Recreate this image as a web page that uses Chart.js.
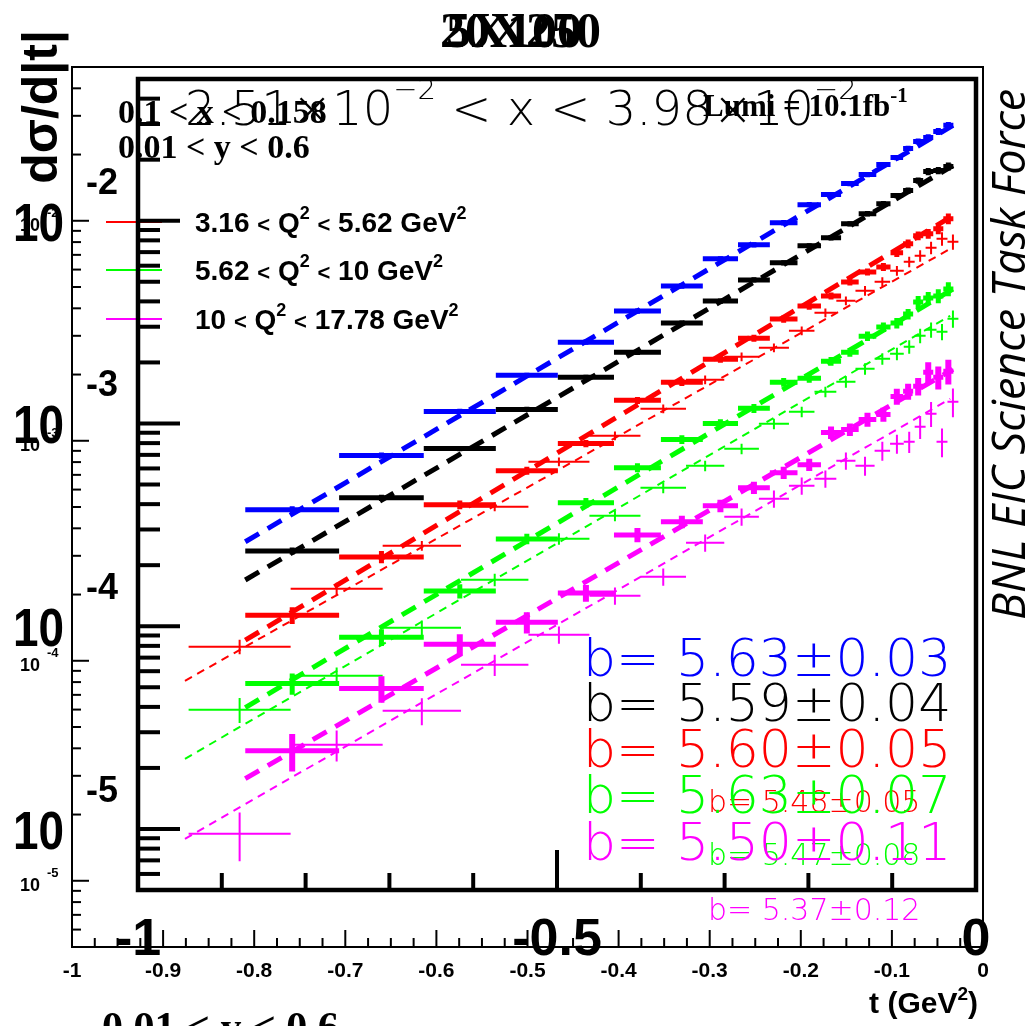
<!DOCTYPE html>
<html>
<head>
<meta charset="utf-8">
<script src="https://cdn.jsdelivr.net/npm/chart.js@4"></script>
<style>
html,body{margin:0;padding:0;background:#fff;overflow:hidden}
#wrap{position:relative;width:1033px;height:1026px}
#wrap canvas{position:absolute;left:0;top:0}
</style>
</head>
<body>
<div id="wrap">
<canvas id="outer" width="1033" height="1026"></canvas>
<canvas id="inner" width="1033" height="1026"></canvas>
</div>
<script>
// ---------------- DATA ----------------
// |t| bin edges (t in GeV^2, negative)
const tBinEdges = [-0.872, -0.760, -0.659, -0.573, -0.499, -0.432, -0.376, -0.326, -0.284, -0.246, -0.213,
  -0.185, -0.161, -0.140, -0.119, -0.102, -0.087, -0.075, -0.063, -0.051, -0.039, -0.027];

// 20X250 panel (thick markers): dsigma/d|t|
const e20Blue = [3.752e-4, 6.944e-4, 1.147e-3, 1.729e-3, 2.518e-3, 3.585e-3, 4.767e-3, 6.484e-3, 7.606e-3, 9.775e-3,
  1.200e-2, 1.345e-2, 1.525e-2, 1.689e-2, 1.893e-2, 2.050e-2, 2.272e-2, 2.461e-2, 2.576e-2, 2.758e-2, 2.953e-2];
const e20Black = [2.351e-4, 4.301e-4, 7.519e-4, 1.173e-3, 1.690e-3, 2.246e-3, 3.126e-3, 4.018e-3, 5.104e-3, 6.196e-3,
  7.519e-3, 8.236e-3, 9.663e-3, 1.083e-2, 1.214e-2, 1.330e-2, 1.408e-2, 1.578e-2, 1.748e-2, 1.768e-2, 1.851e-2];
const e20Red = [1.134e-4, 2.196e-4, 3.972e-4, 5.852e-4, 7.962e-4, 1.300e-3, 1.596e-3, 2.074e-3, 2.635e-3, 3.273e-3,
  3.795e-3, 4.253e-3, 4.989e-3, 5.591e-3, 5.920e-3, 6.944e-3, 7.693e-3, 8.426e-3, 8.620e-3, 9.130e-3, 1.023e-2];
const e20Green = [5.221e-5, 8.820e-5, 1.490e-4, 2.696e-4, 4.064e-4, 6.056e-4, 8.332e-4, 1.000e-3, 1.187e-3, 1.596e-3,
  1.671e-3, 2.027e-3, 2.246e-3, 2.696e-3, 2.987e-3, 3.126e-3, 3.464e-3, 3.972e-3, 4.157e-3, 4.253e-3, 4.607e-3];
const e20Magenta = [2.433e-5, 4.932e-5, 8.145e-5, 1.047e-4, 1.457e-4, 2.821e-4, 3.273e-4, 3.926e-4, 4.823e-4, 5.720e-4,
  6.266e-4, 9.023e-4, 9.339e-4, 1.047e-3, 1.108e-3, 1.360e-3, 1.440e-3, 1.525e-3, 1.788e-3, 1.690e-3, 1.809e-3];
// relative errors
const e20BlueErr = [0.04,0.035,0.03,0.03,0.03,0.03,0.03,0.03,0.03,0.03,0.03,0.03,0.03,0.03,0.03,0.03,0.03,0.035,0.035,0.04,0.04];
const e20BlackErr = [0.04,0.035,0.03,0.03,0.03,0.03,0.03,0.03,0.03,0.03,0.03,0.03,0.03,0.03,0.03,0.03,0.035,0.035,0.04,0.04,0.045];
const e20RedErr = [0.095,0.07,0.05,0.045,0.04,0.04,0.04,0.04,0.04,0.04,0.04,0.04,0.04,0.04,0.045,0.045,0.05,0.05,0.055,0.06,0.06];
const e20GreenErr = [0.12,0.095,0.08,0.06,0.055,0.05,0.05,0.05,0.05,0.05,0.05,0.05,0.05,0.055,0.055,0.06,0.06,0.07,0.07,0.08,0.08];
const e20MagentaErr = [0.21,0.15,0.12,0.12,0.095,0.08,0.07,0.07,0.07,0.07,0.07,0.07,0.07,0.08,0.08,0.09,0.09,0.1,0.12,0.13,0.14];
// fits (20X250)
const e20FitT = [-0.872, -0.0275];
const e20FitBlue = [2.61e-4, 2.95e-2];
const e20FitBlack = [1.69e-4, 1.87e-2];
const e20FitRed = [8.53e-5, 1.06e-2];
const e20FitGreen = [3.97e-5, 4.60e-3];
const e20FitMagenta = [1.77e-5, 1.85e-3];
const e20Slopes = ['b= 5.63\u00B10.03', 'b= 5.59\u00B10.04', 'b= 5.60\u00B10.05', 'b= 5.63\u00B10.07', 'b= 5.50\u00B10.11'];

// 5X100 panel (thin markers)
const e5Red = [1.158e-4, 2.125e-4, 3.332e-4, 5.012e-4, 8.026e-4, 1.054e-3, 1.398e-3, 1.894e-3, 2.409e-3, 2.647e-3,
  3.162e-3, 3.818e-3, 4.329e-3, 4.806e-3, 5.280e-3, 5.925e-3, 6.510e-3, 6.932e-3, 7.538e-3, 8.283e-3, 8.026e-3];
const e5Green = [5.988e-5, 8.547e-5, 1.413e-4, 2.334e-4, 3.585e-4, 4.562e-4, 6.115e-4, 7.698e-4, 9.196e-4, 1.195e-3,
  1.354e-3, 1.670e-3, 1.854e-3, 2.125e-3, 2.359e-3, 2.486e-3, 2.676e-3, 3.001e-3, 3.195e-3, 3.129e-3, 3.585e-3];
const e5Magenta = [1.635e-5, 4.152e-5, 5.925e-5, 9.590e-5, 1.313e-4, 1.975e-4, 2.409e-4, 3.439e-4, 4.514e-4, 5.450e-4,
  6.245e-4, 6.720e-4, 8.111e-4, 7.698e-4, 9.004e-4, 9.692e-4, 9.897e-4, 1.158e-3, 1.327e-3, 9.897e-4, 1.504e-3];
const e5RedErr = [0.076,0.065,0.05,0.045,0.045,0.045,0.045,0.045,0.045,0.045,0.045,0.045,0.045,0.05,0.05,0.05,0.055,0.06,0.065,0.07,0.08];
const e5GreenErr = [0.13,0.09,0.08,0.065,0.06,0.055,0.055,0.055,0.055,0.055,0.055,0.055,0.06,0.06,0.06,0.065,0.07,0.075,0.08,0.085,0.09];
const e5MagentaErr = [0.25,0.16,0.14,0.11,0.09,0.09,0.09,0.09,0.09,0.09,0.09,0.09,0.09,0.1,0.1,0.1,0.11,0.12,0.13,0.15,0.15];
const e5FitT = [-0.876, -0.036];
const e5FitRed = [8.11e-5, 7.46e-3];
const e5FitGreen = [3.585e-5, 3.70e-3];
const e5FitMagenta = [1.552e-5, 1.552e-3];
const e5Slopes = ['b= 5.48\u00B10.05', 'b= 5.47\u00B10.08', 'b= 5.37\u00B10.12'];

const legendLabels = [['3.16', '5.62'], ['5.62', '10'], ['10', '17.78']];

// tick labels
const outerXTickValues = [-1, -0.9, -0.8, -0.7, -0.6, -0.5, -0.4, -0.3, -0.2, -0.1, 0];
const outerXTickLabels = ['-1', '-0.9', '-0.8', '-0.7', '-0.6', '-0.5', '-0.4', '-0.3', '-0.2', '-0.1', '0'];
const innerXTickValues = [-1, -0.5, 0];
const innerXTickLabels = ['-1', '-0.5', '0'];
const yDecadeValues = [1e-2, 1e-3, 1e-4, 1e-5];
const yDecadeExponents = ['-2', '-3', '-4', '-5'];

// ---------------- HELPERS ----------------
const SANS = '"Liberation Sans", Arial, Helvetica, sans-serif';
const SERIF = '"Liberation Serif", "Times New Roman", serif';
const THIN = '"DejaVu Sans", sans-serif';
const COL = {blue:'#0000ff', black:'#000000', red:'#ff0000', green:'#00ff00', magenta:'#ff00ff'};

function errorSets(values, rel, color, hw, vw) {
  const h = [], v = [];
  values.forEach((val, i) => {
    const lo = tBinEdges[i], hi = tBinEdges[i + 1], mid = (lo + hi) / 2;
    h.push({x: lo, y: val}, {x: hi, y: val}, {x: mid, y: null});
    v.push({x: mid, y: val * (1 - rel[i])}, {x: mid, y: val * (1 + rel[i])}, {x: mid, y: null});
  });
  const base = {pointRadius: 0, fill: false, tension: 0, spanGaps: false, borderCapStyle: 'butt'};
  return [
    Object.assign({data: h, borderColor: color, borderWidth: hw}, base),
    Object.assign({data: v, borderColor: color, borderWidth: vw}, base)
  ];
}
function fitSet(ts, vals, color, w, dash) {
  return {data: ts.map((t, i) => ({x: t, y: vals[i]})), borderColor: color, borderWidth: w,
    borderDash: dash, pointRadius: 0, fill: false, tension: 0, borderCapStyle: 'butt'};
}
function parts(ctx, x, y, list, align) {
  let w = 0;
  list.forEach(p => { ctx.font = p.f; w += ctx.measureText(p.s).width; });
  let cx = align === 'right' ? x - w : (align === 'center' ? x - w / 2 : x);
  ctx.textAlign = 'left';
  ctx.textBaseline = 'alphabetic';
  list.forEach(p => {
    ctx.font = p.f;
    if (p.c) ctx.fillStyle = p.c;
    ctx.fillText(p.s, cx, y + (p.dy || 0));
    cx += ctx.measureText(p.s).width;
  });
}
function seg(ctx, x1, y1, x2, y2) { ctx.beginPath(); ctx.moveTo(x1, y1); ctx.lineTo(x2, y2); ctx.stroke(); }

function yTickValues(min, max) {
  const out = [];
  for (let e = -7; e <= 0; e++) for (let k = 1; k <= 9; k++) {
    const v = k * Math.pow(10, e);
    if (v >= min * 0.999 && v <= max * 1.001) out.push({v: v, major: k === 1});
  }
  return out;
}

// ---------------- OUTER (5X100) ----------------
const outerDeco = {
  id: 'outerDeco',
  afterDraw(chart) {
    const ctx = chart.ctx, a = chart.chartArea, xs = chart.scales.x, ys = chart.scales.y;
    ctx.save();
    ctx.strokeStyle = '#000'; ctx.fillStyle = '#000'; ctx.lineWidth = 2;
    ctx.strokeRect(a.left, a.top, a.right - a.left, a.bottom - a.top);
    // y ticks
    yTickValues(ys.min, ys.max).forEach(t => {
      const py = ys.getPixelForValue(t.v);
      seg(ctx, a.left, py, a.left + (t.major ? 17 : 9), py);
    });
    // x ticks
    for (let i = 1; i < 40; i++) {
      const px = xs.getPixelForValue(-1 + i * 0.025);
      seg(ctx, px, a.bottom, px, a.bottom - (i % 4 === 0 ? 17 : 9));
    }
    // x labels
    outerXTickValues.forEach((v, i) => {
      ctx.font = 'bold 21px ' + SANS; ctx.textAlign = 'center'; ctx.textBaseline = 'alphabetic';
      ctx.fillText(outerXTickLabels[i], xs.getPixelForValue(v), a.bottom + 30);
    });
    // y labels
    yDecadeValues.forEach((v, i) => {
      const py = ys.getPixelForValue(v);
      ctx.font = 'bold 18px ' + SANS; ctx.textAlign = 'right'; ctx.textBaseline = 'alphabetic';
      ctx.fillText('10', 40, py + 10);
      ctx.font = 'bold 13px ' + SANS; ctx.textAlign = 'left';
      ctx.fillText(yDecadeExponents[i], 47, py - 4);
    });
    // titles
    ctx.textAlign = 'left';
    ctx.font = 'bold 50px ' + SERIF; ctx.fillText('5X100', 446, 47);
    ctx.font = 'bold 34px ' + SERIF;
    ctx.fillText('0.1 < x < 0.158', 118, 123);
    ctx.fillText('0.01 < y < 0.6', 118, 158);
    parts(ctx, 703, 116, [{s: 'Lumi = 10.1fb', f: 'bold 31px ' + SERIF}, {s: '-1', f: 'bold 21px ' + SERIF, dy: -14}]);
    ctx.font = 'bold 42px ' + SERIF; ctx.fillText('0.01 < y < 0.6', 102, 1041);
    // legend
    const legCols = [COL.red, COL.green, COL.magenta], legY = [222, 270, 319];
    legendLabels.forEach((lab, i) => {
      ctx.strokeStyle = legCols[i]; ctx.lineWidth = 2;
      seg(ctx, 106, legY[i], 162, legY[i]);
      ctx.fillStyle = '#000';
      const B = 'bold 28px ' + SANS, S = 'bold 18px ' + SANS, L = 'bold 22px ' + SANS;
      parts(ctx, 195, legY[i] + 10, [{s: lab[0] + ' ', f: B}, {s: '<', f: L}, {s: ' Q', f: B}, {s: '2', f: S, dy: -13},
        {s: ' ', f: B}, {s: '<', f: L}, {s: ' ' + lab[1] + ' GeV', f: B}, {s: '2', f: S, dy: -13}]);
    });
    // axis titles
    ctx.fillStyle = '#000';
    parts(ctx, 978, 1013, [{s: 't (GeV', f: 'bold 30px ' + SANS}, {s: '2', f: 'bold 19px ' + SANS, dy: -13}, {s: ')', f: 'bold 30px ' + SANS}], 'right');
    ctx.save();
    ctx.translate(43, 30); ctx.rotate(-Math.PI / 2);
    ctx.font = 'bold 50px ' + SANS; ctx.textAlign = 'right'; ctx.textBaseline = 'middle';
    ctx.fillText('d\u03C3/d|t|', 0, 0);
    ctx.restore();
    // slopes
    const sc = [COL.red, COL.green, COL.magenta], sy = [812, 865, 920];
    e5Slopes.forEach((s, i) => {
      ctx.fillStyle = sc[i]; ctx.font = '200 30px ' + THIN; ctx.textAlign = 'left';
      ctx.fillText(s, 708, sy[i]);
    });
    ctx.restore();
  }
};

const outerSets = [].concat(
  errorSets(e5Red, e5RedErr, COL.red, 2, 2),
  errorSets(e5Green, e5GreenErr, COL.green, 2, 2),
  errorSets(e5Magenta, e5MagentaErr, COL.magenta, 2, 2),
  [fitSet(e5FitT, e5FitRed, COL.red, 2, [8, 6]),
   fitSet(e5FitT, e5FitGreen, COL.green, 2, [8, 6]),
   fitSet(e5FitT, e5FitMagenta, COL.magenta, 2, [8, 6])]
);

new Chart(document.getElementById('outer'), {
  type: 'line',
  data: {datasets: outerSets},
  options: {
    responsive: false, animation: false, events: [],
    layout: {padding: {left: 72, right: 50, top: 67, bottom: 79}},
    plugins: {legend: {display: false}, tooltip: {enabled: false}, title: {display: false}},
    scales: {
      x: {type: 'linear', min: -1, max: 0, display: false},
      y: {type: 'logarithmic', min: 5e-6, max: 5e-2, display: false}
    }
  },
  plugins: [outerDeco]
});

// ---------------- INNER (20X250) ----------------
const innerDeco = {
  id: 'innerDeco',
  afterDraw(chart) {
    const ctx = chart.ctx, a = chart.chartArea, xs = chart.scales.x, ys = chart.scales.y;
    ctx.save();
    ctx.strokeStyle = '#000'; ctx.fillStyle = '#000'; ctx.lineWidth = 4.5;
    ctx.strokeRect(a.left, a.top, a.right - a.left, a.bottom - a.top);
    ctx.lineWidth = 4;
    yTickValues(ys.min, ys.max).forEach(t => {
      const py = ys.getPixelForValue(t.v);
      seg(ctx, a.left, py, a.left + (t.major ? 42 : 22), py);
    });
    for (let i = 1; i < 10; i++) {
      const px = xs.getPixelForValue(-1 + i * 0.1);
      seg(ctx, px, a.bottom, px, a.bottom - (i === 5 ? 40 : 17));
    }
    innerXTickValues.forEach((v, i) => {
      ctx.font = 'bold 52px ' + SANS; ctx.textAlign = 'center'; ctx.textBaseline = 'alphabetic';
      ctx.fillText(innerXTickLabels[i], xs.getPixelForValue(v), a.bottom + 65);
    });
    yDecadeValues.forEach((v, i) => {
      const py = ys.getPixelForValue(v);
      ctx.save();
      ctx.translate(64, py + 20); ctx.scale(0.85, 1);
      ctx.font = 'bold 54px ' + SANS; ctx.textAlign = 'right'; ctx.textBaseline = 'alphabetic';
      ctx.fillText('10', 0, 0);
      ctx.restore();
      ctx.font = 'bold 36px ' + SANS; ctx.textAlign = 'left';
      ctx.fillText(yDecadeExponents[i], 86, py - 27);
    });
    ctx.textAlign = 'left';
    ctx.font = 'bold 50px ' + SERIF; ctx.fillText('20X250', 440, 47);
    const T = '200 48px ' + THIN, E = '200 29px ' + THIN;
    parts(ctx, 185, 125, [{s: '2.51\u00D710', f: T}, {s: '\u22122', f: E, dy: -26},
      {s: ' < x < 3.98\u00D710', f: T}, {s: '\u22122', f: E, dy: -26}]);
    const bc = [COL.blue, COL.black, COL.red, COL.green, COL.magenta], by = [676, 721, 767, 813, 860];
    e20Slopes.forEach((s, i) => {
      ctx.fillStyle = bc[i]; ctx.font = '200 52px ' + THIN; ctx.textAlign = 'left';
      ctx.fillText(s, 583, by[i]);
    });
    ctx.fillStyle = '#000';
    ctx.save();
    ctx.translate(1012, 620); ctx.rotate(-Math.PI / 2);
    ctx.font = 'italic 45px "Open Sans", ' + SANS; ctx.textAlign = 'left'; ctx.textBaseline = 'middle';
    ctx.fillText('BNL EIC Science Task Force', 0, 0);
    ctx.restore();
    ctx.restore();
  }
};

const innerSets = [].concat(
  [fitSet(e20FitT, e20FitBlue, COL.blue, 5, [16, 10]),
   fitSet(e20FitT, e20FitBlack, COL.black, 5, [16, 10]),
   fitSet(e20FitT, e20FitRed, COL.red, 5, [16, 10]),
   fitSet(e20FitT, e20FitGreen, COL.green, 5, [16, 10]),
   fitSet(e20FitT, e20FitMagenta, COL.magenta, 5, [16, 10])],
  errorSets(e20Blue, e20BlueErr, COL.blue, 5, 5),
  errorSets(e20Black, e20BlackErr, COL.black, 5, 5),
  errorSets(e20Red, e20RedErr, COL.red, 5, 5),
  errorSets(e20Green, e20GreenErr, COL.green, 5, 5),
  errorSets(e20Magenta, e20MagentaErr, COL.magenta, 5, 6)
);

new Chart(document.getElementById('inner'), {
  type: 'line',
  data: {datasets: innerSets},
  options: {
    responsive: false, animation: false, events: [],
    layout: {padding: {left: 138, right: 57, top: 79, bottom: 136}},
    plugins: {legend: {display: false}, tooltip: {enabled: false}, title: {display: false}},
    scales: {
      x: {type: 'linear', min: -1, max: 0, display: false},
      y: {type: 'logarithmic', min: 5e-6, max: 5e-2, display: false}
    }
  },
  plugins: [innerDeco]
});
</script>
</body>
</html>
